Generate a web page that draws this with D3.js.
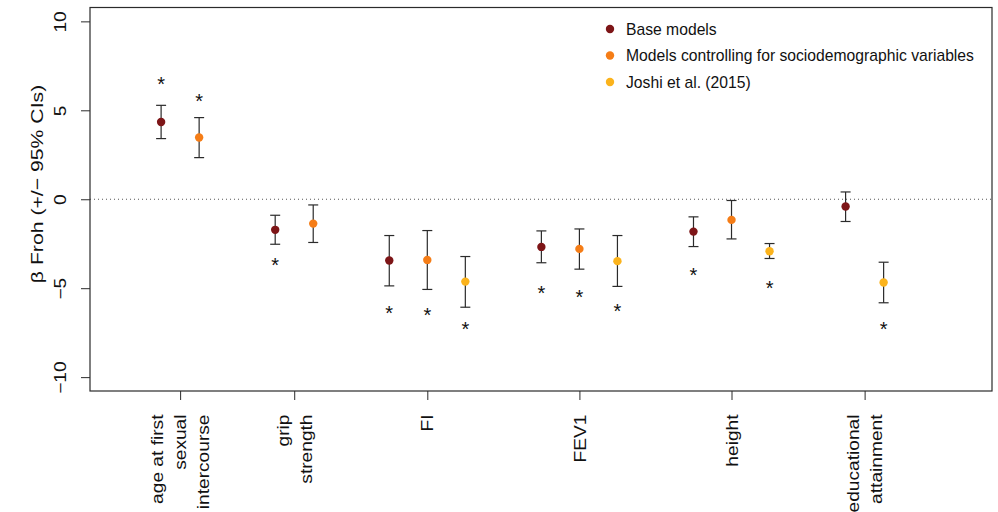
<!DOCTYPE html>
<html>
<head>
<meta charset="utf-8">
<script src="https://cdn.jsdelivr.net/npm/d3@7"></script>
<style>
  html, body { margin: 0; padding: 0; background: #fff; }
  svg { display: block; }
  text { font-family: "Liberation Sans", Arial, Helvetica, sans-serif; fill: #111; }
</style>
</head>
<body>
<script>
// ---- data ----
const outcomes = ["age at first\nsexual\nintercourse", "grip\nstrength", "FI", "FEV1", "height", "educational\nattainment"];
const seriesNames = ["Base models", "Models controlling for sociodemographic variables", "Joshi et al. (2015)"];
const seriesColors = ["#7d1517", "#f57d17", "#fbb31c"];
// slot index along the x axis (one slot per estimate, gaps between outcomes)
const slot     = [0, 1, 3, 4, 6, 7, 8, 10, 11, 12, 14, 15, 16, 18, 19];
const outcomeOf= [0, 0, 1, 1, 2, 2, 2, 3, 3, 3, 4, 4, 4, 5, 5];
const seriesOf = [0, 1, 0, 1, 0, 1, 2, 0, 1, 2, 0, 1, 2, 0, 2];
const estimate = [4.34, 3.47, -1.72, -1.37, -3.44, -3.41, -4.63, -2.68, -2.79, -3.48, -1.82, -1.16, -2.92, -0.41, -4.68];
const ciLow    = [3.41, 2.34, -2.53, -2.43, -4.87, -5.07, -6.07, -3.57, -3.93, -4.90, -2.66, -2.23, -3.33, -1.25, -5.82];
const ciHigh   = [5.28, 4.59, -0.90, -0.32, -2.04, -1.76, -3.22, -1.78, -1.67, -2.04, -0.99, -0.07, -2.49, 0.41, -3.54];
// significance marker (asterisk) position, in beta units; null = not significant
const starAt   = [6.74, 5.75, -3.44, null, -6.12, -6.24, -7.04, -5.04, -5.22, -6.03, -4.00, null, -4.74, null, -7.04];
const outcomeTickSlot = [0.5, 3.5, 7, 11, 15, 18.5];
const yTicks = [-10, -5, 0, 5, 10];
const yDomain = [-10.78, 10.78];
const slotDomain = [-1.87, 21.85];

// ---- layout ----
const W = 998, H = 512;
const box = {left: 90, right: 992, top: 7.5, bottom: 391};
const svg = d3.select("body").append("svg").attr("width", W).attr("height", H);

const x = d3.scaleLinear().domain(slotDomain).range([box.left, box.right]);
const y = d3.scaleLinear().domain(yDomain).range([box.bottom, box.top]);

const stroke = "#2b2b2b";
const vStretch = 1.22;
const fs = "15.7px";

// zero reference line
svg.append("line")
  .attr("x1", box.left).attr("x2", box.right)
  .attr("y1", y(0)).attr("y2", y(0))
  .attr("stroke", "#555").attr("stroke-width", 1).attr("stroke-dasharray", "1,3");

// y axis
const yAxis = d3.axisLeft(y).tickValues(yTicks).tickSize(9).tickFormat("");
const gy = svg.append("g").attr("transform", `translate(${box.left},0)`).call(yAxis);
gy.select(".domain").remove();
gy.selectAll(".tick line").attr("stroke", stroke).attr("stroke-width", 1);
gy.selectAll(".tick text").remove();
gy.selectAll(".tick").append("text")
  .attr("transform", `translate(-24,0) scale(1,${vStretch}) rotate(-90)`)
  .attr("text-anchor", "middle")
  .style("font-size", fs)
  .style("fill", "#111")
  .text(d => d < 0 ? "\u2212" + Math.abs(d) : d);

// y title
svg.append("text")
  .attr("transform", `translate(43,184) scale(1,${vStretch}) rotate(-90)`)
  .attr("text-anchor", "middle")
  .style("font-size", "17.4px")
  .text("\u03B2 Froh (+/\u2212 95% CIs)");

// x axis
const xAxis = d3.axisBottom(x).tickValues(outcomeTickSlot).tickSize(9).tickFormat("");
const gx = svg.append("g").attr("transform", `translate(0,${box.bottom})`).call(xAxis);
gx.select(".domain").remove();
gx.selectAll(".tick line").attr("stroke", stroke).attr("stroke-width", 1);
gx.selectAll(".tick").each(function(d, i) {
  const lines = outcomes[i].split("\n");
  const n = lines.length;
  const g = d3.select(this);
  lines.forEach((ln, k) => {
    const off = (k - (n - 1) / 2) * 23;
    g.append("text")
      .attr("transform", `translate(${off},23.5) scale(1,${vStretch}) rotate(-90)`)
      .attr("text-anchor", "end")
      .attr("dy", "0.36em")
      .style("font-size", fs)
      .style("fill", "#111")
      .text(ln);
  });
});

// box
svg.append("rect")
  .attr("x", box.left).attr("y", box.top)
  .attr("width", box.right - box.left).attr("height", box.bottom - box.top)
  .attr("fill", "none").attr("stroke", stroke).attr("stroke-width", 1.2);

// error bars
const idx = d3.range(estimate.length);
const eb = svg.append("g");
eb.selectAll("line.v").data(idx).join("line")
  .attr("x1", i => x(slot[i])).attr("x2", i => x(slot[i]))
  .attr("y1", i => y(ciLow[i])).attr("y2", i => y(ciHigh[i]))
  .attr("stroke", stroke).attr("stroke-width", 1.2);
[ciLow, ciHigh].forEach(arr => {
  eb.selectAll(null).data(idx).join("line")
    .attr("x1", i => x(slot[i]) - 5).attr("x2", i => x(slot[i]) + 5)
    .attr("y1", i => y(arr[i])).attr("y2", i => y(arr[i]))
    .attr("stroke", stroke).attr("stroke-width", 1.2);
});

// points
svg.append("g").selectAll("circle").data(idx).join("circle")
  .attr("cx", i => x(slot[i])).attr("cy", i => y(estimate[i]))
  .attr("r", 4.2).attr("fill", i => seriesColors[seriesOf[i]]);

// significance stars
svg.append("g").selectAll("text").data(idx.filter(i => starAt[i] !== null)).join("text")
  .attr("x", i => x(slot[i])).attr("y", i => y(starAt[i]) + 11.5)
  .attr("text-anchor", "middle")
  .style("font-size", "20px")
  .text("*");

// legend
const lg = svg.append("g");
seriesNames.forEach((nm, k) => {
  const yy = 29 + k * 26.5;
  lg.append("circle").attr("cx", 610).attr("cy", yy).attr("r", 4.2).attr("fill", seriesColors[k]);
  lg.append("text").attr("x", 626).attr("y", yy).attr("dy", "0.36em")
    .style("font-size", fs).text(nm);
});
</script>
</body>
</html>
